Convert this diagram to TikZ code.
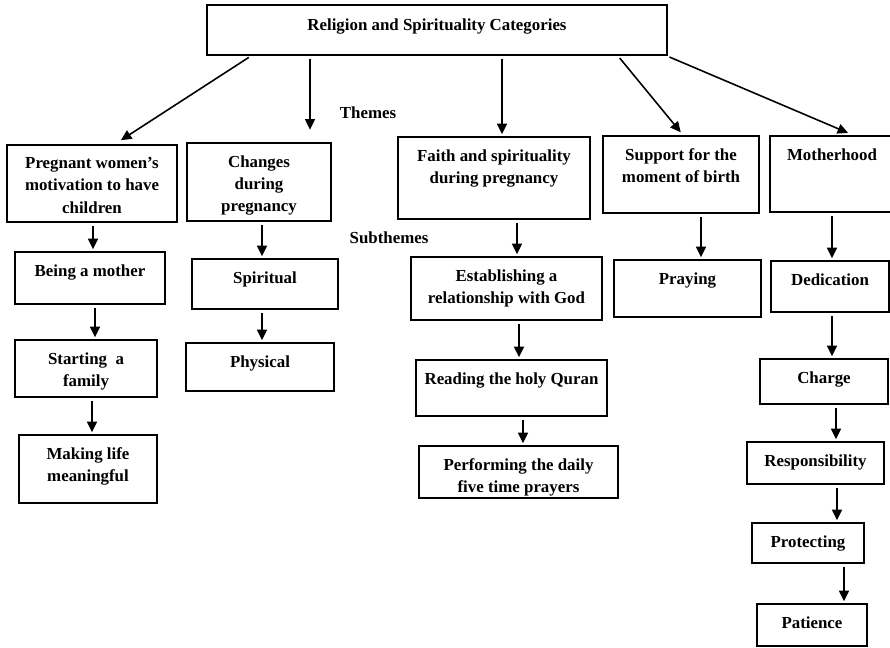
\documentclass[tikz,border=0pt]{standalone}
\usepackage{fontspec}
\setmainfont{Liberation Serif}
\usetikzlibrary{positioning,fit,arrows.meta}

\tikzset{
  box/.style={draw, line width=1.1pt, inner sep=0pt},
  txt/.style={inner sep=0pt, align=center, font=\fontsize{9.6}{12.6}\selectfont\bfseries},
  arr/.style={-{Triangle[length=6pt,width=5.6pt]}, line width=0.9pt, shorten <=1.5pt, shorten >=1pt},
}

\begin{document}
\begin{tikzpicture}[x=0.02cm, y=-0.02cm]

    \useasboundingbox (0,0) rectangle (890,648);

    % top category
    \node[box, fit={(207,5) (667,55)}] (Root) {};
    \node[txt, below=8pt of Root.north] (RootT) {Religion and Spirituality Categories};

    % themes
    \node[box, fit={(7,145) (177,222)}] (Preg) {};
    \node[txt, below=7.5pt of Preg.north] (PregT) {Pregnant women's\\motivation to have\\children};

    \node[box, fit={(187,143) (331,221)}] (Chg) {};
    \node[txt, below=7.5pt of Chg.north] (ChgT) {Changes\\during\\pregnancy};

    \node[box, fit={(398,137) (590,219)}] (Faith) {};
    \node[txt, below=7.5pt of Faith.north] (FaithT) {Faith and spirituality\\during pregnancy};

    \node[box, fit={(603,136) (759,213)}] (Supp) {};
    \node[txt, below=7.5pt of Supp.north] (SuppT) {Support for the\\moment of birth};

    \node[box, fit={(770,136) (894,212)}] (Moth) {};
    \node[txt, below=7.5pt of Moth.north] (MothT) {Motherhood};

    % subthemes
    \node[box, fit={(15,252) (165,304)}] (Being) {};
    \node[txt, below=7.5pt of Being.north] (BeingT) {Being a mother};

    \node[box, fit={(15,340) (157,397)}] (Start) {};
    \node[txt, below=7.5pt of Start.north] (StartT) {Starting\ \ a\\family};

    \node[box, fit={(19,435) (157,503)}] (Mean) {};
    \node[txt, below=7.5pt of Mean.north] (MeanT) {Making life\\meaningful};

    \node[box, fit={(192,259) (338,309)}] (Spir) {};
    \node[txt, below=7.5pt of Spir.north] (SpirT) {Spiritual};

    \node[box, fit={(186,343) (334,391)}] (Phys) {};
    \node[txt, below=7.5pt of Phys.north] (PhysT) {Physical};

    \node[box, fit={(411,257) (602,320)}] (Estab) {};
    \node[txt, below=7.5pt of Estab.north] (EstabT) {Establishing a\\relationship with God};

    \node[box, fit={(416,360) (607,416)}] (Read) {};
    \node[txt, below=7.5pt of Read.north] (ReadT) {Reading the holy Quran};

    \node[box, fit={(419,446) (618,498)}] (Perf) {};
    \node[txt, below=7.5pt of Perf.north] (PerfT) {Performing the daily\\five time prayers};

    \node[box, fit={(614,260) (761,317)}] (Pray) {};
    \node[txt, below=7.5pt of Pray.north] (PrayT) {Praying};

    \node[box, fit={(771,261) (889,312)}] (Ded) {};
    \node[txt, below=7.5pt of Ded.north] (DedT) {Dedication};

    \node[box, fit={(760,359) (888,404)}] (Charge) {};
    \node[txt, below=7.5pt of Charge.north] (ChargeT) {Charge};

    \node[box, fit={(747,442) (884,484)}] (Resp) {};
    \node[txt, below=7.5pt of Resp.north] (RespT) {Responsibility};

    \node[box, fit={(752,523) (864,563)}] (Prot) {};
    \node[txt, below=7.5pt of Prot.north] (ProtT) {Protecting};

    \node[box, fit={(757,604) (867,646)}] (Pat) {};
    \node[txt, below=7.5pt of Pat.north] (PatT) {Patience};

    % level labels
    \node[txt] (Themes) at (368,113) {Themes};
    \node[txt] (Subthemes) at (389,238) {Subthemes};

    % root to themes
    \foreach \xa/\dst/\xb/\gap in {251/Preg/115/4pt, 310/Chg/310/7pt, 502/Faith/502/1pt,
                                   618/Supp/683/2pt, 667/Moth/853/3pt}
        \draw[arr, shorten >=\gap] (Root.south -| \xa,0) -- (\dst.north -| \xb,0);

    % themes to subthemes
    \foreach \src/\dst/\x in {Preg/Being/93, Being/Start/95, Start/Mean/92,
                              Chg/Spir/262, Spir/Phys/262,
                              Faith/Estab/517, Estab/Read/519, Read/Perf/523,
                              Supp/Pray/701,
                              Moth/Ded/832, Ded/Charge/832, Charge/Resp/836,
                              Resp/Prot/837, Prot/Pat/844}
        \draw[arr] (\src.south -| \x,0) -- (\dst.north -| \x,0);

\end{tikzpicture}
\end{document}
